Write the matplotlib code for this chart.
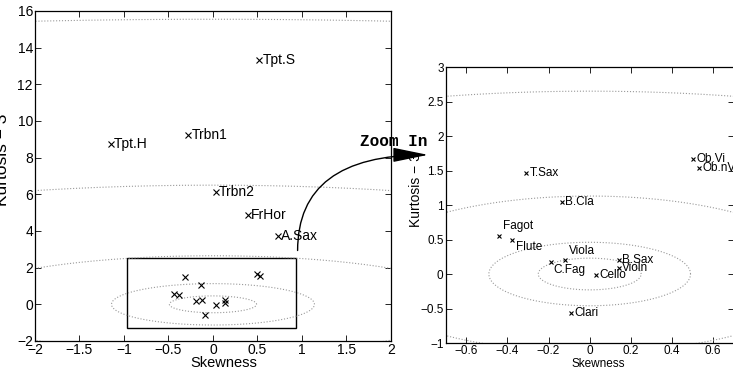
"""
Skewness vs. excess kurtosis of instrument sounds, with a zoomed-in view.
"""

import matplotlib
matplotlib.use('Agg')
import matplotlib.pyplot as plt
import numpy as np
from matplotlib.patches import Rectangle, FancyArrowPatch
from matplotlib.ticker import FuncFormatter

plt.rcParams['font.family'] = ['Liberation Sans', 'DejaVu Sans']

names = ['Tpt.S', 'Tpt.H', 'Trbn1', 'Trbn2', 'FrHor', 'A.Sax',
         'T.Sax', 'B.Cla', 'Ob.Vi', 'Ob.nV', 'Fagot', 'Flute',
         'C.Fag', 'Viola', 'Cello', 'B.Sax', 'Violn', 'Clari']
skew = [0.52, -1.15, -0.28, 0.03, 0.39, 0.73,
        -0.31, -0.135, 0.50, 0.53, -0.44, -0.38,
        -0.19, -0.12, 0.03, 0.14, 0.14, -0.09]
kurt = [13.3, 8.75, 9.25, 6.1, 4.87, 3.7,
        1.47, 1.05, 1.67, 1.53, 0.55, 0.49,
        0.18, 0.21, -0.01, 0.21, 0.09, -0.57]

# dotted contour ellipses (semi-axes in skewness / kurtosis)
ell_a = [0.25, 0.49, 1.14, 2.97, 6.7, 17.0]
ell_b = [0.23, 0.46, 1.13, 2.65, 6.5, 15.55]

# zoom box drawn in the full view
box_x = (-0.97, 0.93)
box_y = (-1.3, 2.5)

# label offsets (points) in the zoomed view, default is right of the marker
zoom_offsets = {'Fagot': (3, 7), 'Flute': (3, -5), 'Viola': (3, 6), 'C.Fag': (2, -6)}


def fmt(v, pos):
    return ('%g' % round(v, 8)).replace('-', '\u2212')


def style_axes(ax, size):
    ax.tick_params(direction='in', top=True, right=True, length=4, width=0.6,
                   pad=1.5, labelsize=size)
    for s in ax.spines.values():
        s.set_linewidth(0.9)
    ax.xaxis.set_major_formatter(FuncFormatter(fmt))
    ax.yaxis.set_major_formatter(FuncFormatter(fmt))


def draw_ellipses(ax, start):
    t = np.linspace(0, 2 * np.pi, 400)
    for a, b in zip(ell_a[start:], ell_b[start:]):
        ax.plot(a * np.cos(t), b * np.sin(t), ':', color='#999999', lw=0.8)


fig = plt.figure(figsize=(7.33, 3.75), dpi=100)

# full view
ax1 = fig.add_axes([0.0477, 0.0907, 0.4857, 0.88])
draw_ellipses(ax1, 1)
ax1.plot(skew, kurt, 'kx', ms=4, mew=0.8)
for n, x, y in zip(names, skew, kurt):
    if y > 3:
        ax1.annotate(n, (x, y), xytext=(2.5, 0), textcoords='offset points',
                     va='center', ha='left', fontsize=10)
ax1.add_patch(Rectangle((box_x[0], box_y[0]), box_x[1] - box_x[0], box_y[1] - box_y[0],
                        fill=False, ec='k', lw=1.0))
ax1.set_xlim(-2, 2)
ax1.set_ylim(-2, 16)
ax1.set_xticks(np.arange(-2, 2.01, 0.5))
ax1.set_yticks(np.arange(-2, 16.01, 2))
style_axes(ax1, 10)
ax1.set_xlabel('Skewness', fontsize=10.5)
ax1.set_ylabel('Kurtosis \u2212 3', fontsize=12.5)
ax1.xaxis.set_label_coords(0.53, -0.045)
ax1.yaxis.set_label_coords(-0.07, 0.55)

# zoomed view
ax2 = fig.add_axes([0.608, 0.0853, 0.393, 0.736])
draw_ellipses(ax2, 0)
ax2.plot(skew, kurt, 'kx', ms=3.5, mew=0.8)
for n, x, y in zip(names, skew, kurt):
    if -0.7 < x < 0.7 and -1 < y < 3:
        dx, dy = zoom_offsets.get(n, (2.5, 0))
        ax2.annotate(n, (x, y), xytext=(dx, dy), textcoords='offset points',
                     va='center', ha='left', fontsize=8.5, annotation_clip=False)
ax2.set_xlim(-0.7, 0.7)
ax2.set_ylim(-1, 3)
ax2.set_xticks(np.arange(-0.6, 0.61, 0.2))
ax2.set_yticks(np.arange(-1, 3.01, 0.5))
style_axes(ax2, 8.5)
ax2.set_xlabel('Skewness', fontsize=8.5)
ax2.set_ylabel('Kurtosis \u2212 3', fontsize=10)
ax2.xaxis.set_label_coords(0.53, -0.055)
ax2.yaxis.set_label_coords(-0.079, 0.553)

# arrow from the box to the zoomed view
arrow = FancyArrowPatch((0.406, 0.332), (0.584, 0.587), transform=fig.transFigure,
                        connectionstyle='angle3,angleA=90,angleB=0',
                        arrowstyle='-|>,head_length=2.2,head_width=0.45',
                        mutation_scale=10, color='k', lw=1.0, shrinkA=0, shrinkB=0)
fig.patches.append(arrow)
fig.text(0.5375, 1 - 146 / 375, 'Zoom In', family='Liberation Mono', weight='bold',
         fontsize=11.5, ha='center', va='baseline')

fig.savefig('out.png', dpi=100)
